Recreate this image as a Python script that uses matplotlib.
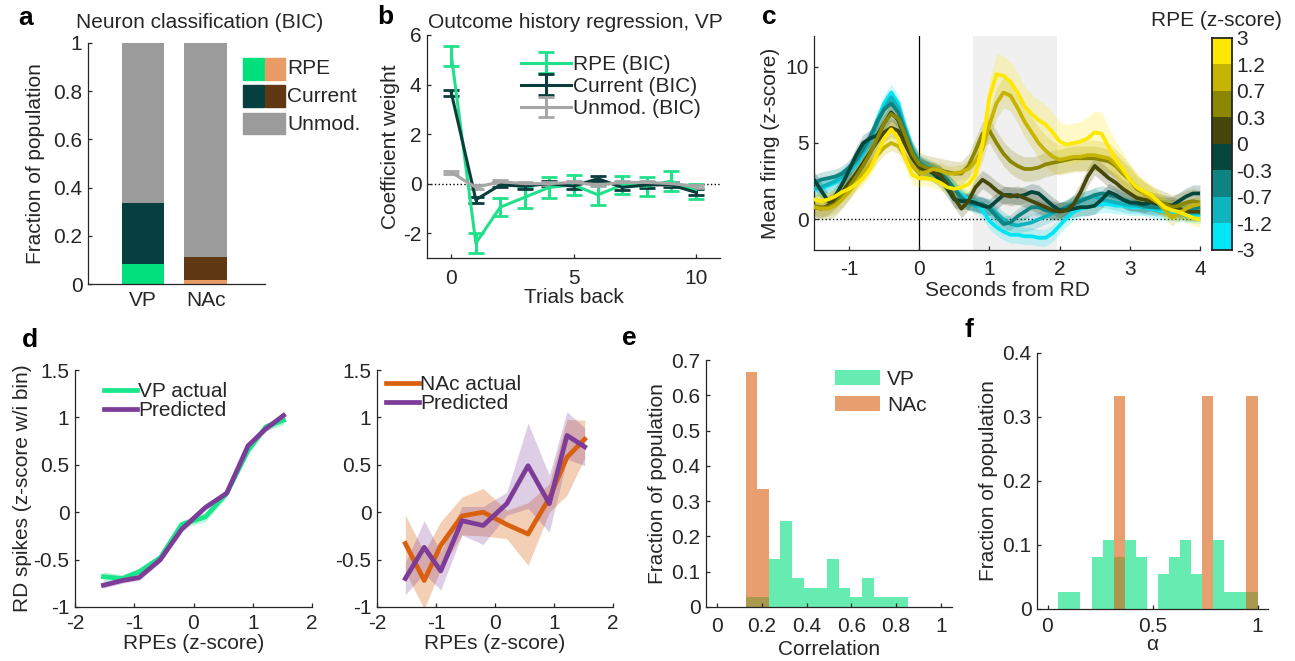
import numpy as np
import matplotlib.pyplot as plt
from matplotlib.patches import Rectangle
from matplotlib.colors import ListedColormap
from matplotlib.ticker import FuncFormatter

plt.rcParams['font.family'] = ['Liberation Sans', 'DejaVu Sans']
plt.rcParams['font.size'] = 15
plt.rcParams['axes.unicode_minus'] = False
for key in ['text.color', 'axes.labelcolor', 'xtick.color', 'ytick.color', 'axes.edgecolor']:
    plt.rcParams[key] = '#262626'
plt.rcParams['xtick.direction'] = 'in'
plt.rcParams['ytick.direction'] = 'in'
plt.rcParams['axes.linewidth'] = 0.9

# ---- panel a: neuron classification
regions = ['VP', 'NAc']
frac_rpe = [0.085, 0.015]
frac_current = [0.25, 0.095]
frac_unmod = [0.665, 0.89]

# ---- panel b: outcome history regression (VP)
trials_back = [0, 1, 2, 3, 4, 5, 6, 7, 8, 9, 10]
coef_rpe = [5.15, -2.4, -0.95, -0.55, -0.15, -0.05, -0.45, -0.05, -0.1, 0.1, -0.3]
err_rpe = [0.4, 0.4, 0.37, 0.42, 0.42, 0.4, 0.4, 0.35, 0.38, 0.4, 0.3]
coef_current = [3.65, -0.65, -0.05, -0.1, 0.0, -0.1, 0.2, -0.15, -0.05, -0.05, -0.35]
err_current = [0.12, 0.13, 0.1, 0.1, 0.1, 0.12, 0.1, 0.12, 0.12, 0.1, 0.12]
coef_unmod = [0.45, -0.15, 0.08, 0.0, 0.0, 0.05, -0.05, 0.05, 0.05, 0.0, -0.1]
err_unmod = [0.05, 0.08, 0.06, 0.06, 0.05, 0.05, 0.05, 0.05, 0.05, 0.05, 0.06]

# ---- panel c: mean firing by RPE bin (time from RD, 0.1 s steps)
time_rd = np.round(np.arange(-1.5, 4.01, 0.1), 2)
rpe_bin_labels = ['-3', '-1.2', '-0.7', '-0.3', '0', '0.3', '0.7', '1.2', '3']
rpe_colors = ['#00E6F5', '#0FB4BE', '#0F8282', '#05463C', '#46480A', '#8B8700', '#C6B400', '#FFE800']
firing_cyan = [2.0, 2.0, 2.2, 2.4, 2.7, 3.1, 3.6, 4.3, 5.2, 6.5, 7.6, 8.3, 7.6, 6.0, 4.6, 3.6,
               3.3, 3.0, 2.8, 2.4, 2.0, 1.6, 1.3, 1.1, 0.6, -0.1,
               -0.5, -0.8, -1.0, -1.0, -1.1, -1.1, -1.2, -1.2, -0.9, -0.4,
               0.1, 0.5, 0.7, 0.8, 0.9, 1.0, 1.0, 0.9, 0.9, 0.8,
               0.8, 0.8, 0.7, 0.6, 0.5, 0.5, 0.4, 0.4, 0.3, 0.3]
firing_cyanteal = [2.0, 2.1, 2.3, 2.5, 2.8, 3.2, 3.7, 4.4, 5.2, 6.3, 7.3, 8.0, 7.3, 5.9, 4.6, 3.7,
                   3.5, 3.3, 3.0, 2.5, 2.0, 1.5, 1.1, 0.9, 0.9, 0.8,
                   0.4, 0.0, -0.3, -0.4, -0.3, -0.2, 0.0, 0.2, 0.4, 0.6,
                   0.8, 1.1, 1.3, 1.4, 1.5, 1.3, 1.2, 1.1, 1.0, 0.9,
                   0.9, 0.8, 0.8, 0.7, 0.7, 0.6, 0.5, 0.5, 0.4, 0.4]
firing_teal = [2.4, 2.6, 2.7, 2.8, 3.0, 3.4, 3.9, 4.6, 5.4, 6.4, 7.2, 7.6, 7.0, 5.7, 4.5, 3.7,
               3.4, 3.2, 3.0, 2.6, 2.0, 1.4, 1.1, 1.0, 1.0, 0.7,
               0.2, -0.3, -0.2, 0.2, 0.5, 0.8, 0.8, 0.6, 0.5, 0.6,
               0.8, 1.0, 1.2, 1.4, 1.6, 1.7, 1.6, 1.5, 1.3, 1.1,
               1.0, 0.9, 0.8, 0.8, 0.8, 0.8, 0.7, 0.6, 0.7, 0.8]
firing_darkteal = [2.6, 1.9, 1.2, 1.5, 2.3, 3.2, 4.2, 5.0, 5.3, 5.5, 6.3, 7.0, 6.5, 5.3, 4.2, 3.5,
                   3.3, 3.0, 2.6, 2.0, 1.3, 1.2, 1.2, 1.1, 0.9, 0.8,
                   1.2, 1.6, 1.6, 1.5, 1.6, 1.8, 1.7, 1.3, 0.9, 0.6,
                   0.6, 0.7, 0.8, 0.8, 0.9, 1.3, 1.8, 1.6, 1.3, 1.1,
                   1.1, 1.0, 1.1, 1.0, 0.9, 0.9, 1.2, 1.5, 1.7, 1.7]
firing_darkolive = [0.8, 0.7, 0.9, 1.3, 1.8, 2.4, 3.0, 3.7, 4.4, 5.1, 5.7, 6.0, 5.8, 4.9, 4.0, 3.4,
                    3.2, 3.1, 2.9, 2.3, 1.4, 0.7, 1.2, 2.1, 2.6, 2.3,
                    1.9, 1.6, 1.5, 1.6, 1.4, 1.2, 1.0, 0.8, 0.6, 0.5,
                    0.6, 1.0, 1.8, 2.8, 3.5, 3.1, 2.7, 2.4, 2.0, 1.7,
                    1.4, 1.3, 1.2, 1.1, 1.0, 0.9, 0.7, 0.5, 0.5, 0.5]
firing_olive = [0.9, 0.8, 0.8, 1.0, 1.5, 2.1, 2.8, 3.5, 4.3, 5.3, 6.3, 6.9, 6.6, 5.5, 4.3, 3.6,
                3.4, 3.3, 3.2, 3.1, 3.0, 3.0, 3.5, 4.5, 5.6, 5.8,
                5.0, 4.3, 3.8, 3.5, 3.3, 3.3, 3.4, 3.6, 3.7, 3.8,
                3.9, 4.0, 4.0, 4.0, 4.0, 3.9, 3.8, 3.5, 3.0, 2.6,
                2.0, 1.7, 1.4, 1.2, 1.0, 0.8, 0.9, 1.1, 1.2, 1.1]
firing_oliveyellow = [0.8, 0.7, 0.7, 0.9, 1.3, 1.8, 2.4, 3.0, 3.6, 4.2, 4.7, 5.0, 4.8, 4.1, 3.5, 3.0,
                      3.1, 3.3, 3.2, 3.0, 3.0, 3.1, 3.3, 3.8, 4.6, 6.2,
                      7.6, 8.3, 8.1, 7.3, 6.4, 5.7, 5.0, 4.5, 4.1, 3.9,
                      4.0, 4.1, 4.1, 4.2, 4.2, 4.1, 4.0, 3.6, 3.1, 2.6,
                      2.1, 1.7, 1.4, 1.1, 0.6, 0.1, 0.4, 0.7, 0.9, 1.0]
firing_yellow = [1.3, 1.2, 1.3, 1.5, 1.8, 2.0, 2.3, 2.7, 3.3, 4.3, 5.3, 5.9, 5.3, 4.0, 2.9, 2.7,
                 2.7, 2.6, 2.4, 2.1, 2.0, 2.1, 2.3, 2.9, 4.9, 8.0,
                 9.5, 9.4, 9.0, 8.3, 7.4, 6.9, 6.5, 6.2, 5.7, 5.1,
                 4.9, 5.0, 5.1, 5.3, 5.7, 5.6, 4.7, 3.9, 3.3, 2.6,
                 2.1, 1.85, 1.6, 1.2, 0.8, 0.6, 0.5, 0.3, 0.1, 0.0]
sem_yellow = [0.5] * 10 + [0.6] * 6 + [0.5, 0.5, 0.5, 0.5, 0.5, 0.5, 0.6, 0.8, 1.0, 1.2] \
    + [1.3] * 10 + [1.3, 1.3, 1.3, 1.4, 1.4, 1.4, 1.3, 1.2, 1.1, 1.0] \
    + [0.9, 0.8, 0.7, 0.7, 0.6, 0.6, 0.5, 0.5, 0.5, 0.5]
sem_oliveyellow = [0.5] * 16 + [0.5, 0.5, 0.5, 0.5, 0.5, 0.5, 0.6, 0.7, 0.8, 0.9] \
    + [1.0] * 10 + [1.0] * 10 + [0.9, 0.8, 0.7, 0.6, 0.6, 0.5, 0.5, 0.5, 0.5, 0.5]
sem_cyan, sem_cyanteal, sem_teal, sem_darkteal = 0.55, 0.5, 0.5, 0.55
sem_darkolive, sem_olive = 0.6, 0.8

# ---- panel d: RD spikes vs RPE bins
rpe_bins = [-1.52, -1.2, -0.92, -0.56, -0.2, 0.2, 0.56, 0.92, 1.22, 1.52]
vp_actual = [-0.68, -0.70, -0.63, -0.48, -0.13, -0.05, 0.2, 0.65, 0.9, 0.97]
vp_actual_sem = [0.05, 0.04, 0.04, 0.04, 0.04, 0.05, 0.04, 0.04, 0.04, 0.05]
vp_pred = [-0.77, -0.72, -0.69, -0.50, -0.18, 0.05, 0.2, 0.70, 0.88, 1.02]
vp_pred_sem = [0.03, 0.03, 0.03, 0.03, 0.03, 0.03, 0.03, 0.03, 0.03, 0.04]
nac_actual = [-0.33, -0.72, -0.35, -0.04, 0.0, -0.13, -0.23, 0.15, 0.58, 0.77]
nac_actual_sem = [0.3, 0.3, 0.25, 0.2, 0.25, 0.15, 0.33, 0.15, 0.4, 0.2]
nac_pred = [-0.70, -0.37, -0.62, -0.09, -0.14, 0.09, 0.49, 0.09, 0.81, 0.69]
nac_pred_sem = [0.17, 0.28, 0.2, 0.15, 0.2, 0.12, 0.45, 0.3, 0.25, 0.2]

# ---- panel e: correlation histograms
corr_edges = [0.127, 0.179, 0.231, 0.283, 0.335, 0.387, 0.439, 0.491, 0.543, 0.595,
              0.647, 0.699, 0.751, 0.803, 0.855]
corr_vp = [0.027, 0.027, 0.135, 0.243, 0.081, 0.054, 0.054, 0.135, 0.054, 0.027, 0.081, 0.027, 0.027, 0.027]
corr_nac = [0.667, 0.333, 0, 0, 0, 0, 0, 0, 0, 0, 0, 0, 0, 0]

# ---- panel f: alpha histograms
alpha_edges = [0.052, 0.105, 0.157, 0.210, 0.263, 0.315, 0.368, 0.421, 0.473, 0.526,
               0.579, 0.631, 0.684, 0.737, 0.789, 0.842, 0.895, 0.947, 1.0]
alpha_vp = [0.027, 0.027, 0, 0.081, 0.108, 0.081, 0.108, 0.081, 0, 0.054, 0.081, 0.108, 0.054, 0,
            0.108, 0.027, 0.027, 0.027]
alpha_nac = [0, 0, 0, 0, 0, 0.333, 0, 0, 0, 0, 0, 0, 0, 0.333, 0, 0, 0, 0.333]

GREEN = '#00E07C'
DARK = '#063F3F'
GRAY = '#9B9B9B'
ORANGE_L = '#E89B64'
BROWN = '#603813'
NAC_ORANGE = '#D9600F'
PURPLE = '#7D3C98'
FS = 15

W, H = 1295, 661
fig = plt.figure(figsize=(W / 100, H / 100), dpi=100)


def px_axes(x0, y0, x1, y1):
    return fig.add_axes([x0 / W, 1 - y1 / H, (x1 - x0) / W, (y1 - y0) / H])


def px(x, y):
    return x / W, 1 - y / H


def style(ax, xpad=5):
    ax.spines['top'].set_visible(False)
    ax.spines['right'].set_visible(False)
    ax.tick_params(length=3, width=0.9)
    ax.tick_params(axis='x', pad=xpad)
    ax.tick_params(axis='y', pad=4)
    fmt = FuncFormatter(lambda v, p: '%g' % round(v, 3))
    ax.xaxis.set_major_formatter(fmt)
    ax.yaxis.set_major_formatter(fmt)


def letter(x, y, s):
    fig.text(*px(x, y), s, fontsize=19, fontweight='bold', color='black', va='baseline')


# ================= a
ax = px_axes(88, 43, 265, 284)
style(ax)
xpos = [1, 2]
ax.bar(xpos, frac_rpe, 0.68, color=[GREEN, ORANGE_L])
ax.bar(xpos, frac_current, 0.68, bottom=frac_rpe, color=[DARK, BROWN])
ax.bar(xpos, frac_unmod, 0.68, bottom=np.add(frac_rpe, frac_current), color=GRAY)
ax.set_xlim(0.127, 2.94)
ax.set_ylim(0, 1)
ax.set_xticks(xpos, regions)
ax.tick_params(axis='x', length=0, pad=5)
ax.set_yticks(np.arange(0, 1.01, 0.2))
ax.set_ylabel('Fraction of population', labelpad=6)
fig.text(*px(76, 22), 'Neuron classification (BIC)', fontsize=FS, va='center')
for (x0, y0, x1, y1, c) in [(243, 58, 264, 80, GREEN), (265, 58, 285, 80, ORANGE_L),
                            (243, 85, 264, 107, DARK), (265, 85, 285, 107, BROWN),
                            (243, 113, 285, 134, GRAY)]:
    fig.add_artist(Rectangle(px(x0, y1), (x1 - x0) / W, (y1 - y0) / H, color=c,
                             transform=fig.transFigure))
for s, y in [('RPE', 69), ('Current', 96), ('Unmod.', 124)]:
    fig.text(*px(287, y), s, fontsize=FS, va='center')
letter(18, 25, 'a')

# ================= b
ax = px_axes(427, 35, 720, 258)
style(ax, xpad=8)
ax.axhline(0, color='black', lw=1, ls=':', zorder=0)
for m, e, c, lab in [(coef_rpe, err_rpe, '#22E08A', 'RPE (BIC)'),
                     (coef_current, err_current, '#0B3D3D', 'Current (BIC)'),
                     (coef_unmod, err_unmod, '#A6A6A6', 'Unmod. (BIC)')]:
    ax.errorbar(trials_back, m, yerr=e, color=c, lw=2.2, capsize=5.5, capthick=2, label=lab)
ax.set_xlim(-1, 11)
ax.set_ylim(-3, 6)
ax.set_xticks([0, 5, 10])
ax.set_yticks([-2, 0, 2, 4, 6])
ax.set_xlabel('Trials back', labelpad=0)
ax.set_ylabel('Coefficient weight', labelpad=2)
ax.legend(loc='upper left', bbox_to_anchor=px(521, 55), bbox_transform=fig.transFigure,
          frameon=False, fontsize=FS, handlelength=2.4, handletextpad=0.1,
          labelspacing=0.15, borderpad=0, borderaxespad=0)
fig.text(*px(428, 22), 'Outcome history regression, VP', fontsize=FS, va='center')
letter(377, 24, 'b')

# ================= c
ax = px_axes(814, 36, 1200, 250)
style(ax, xpad=7)
ax.axvspan(0.77, 1.96, color='#F0F0F0', lw=0, zorder=0)
ax.axhline(0, color='black', lw=1, ls=':', zorder=1)
ax.axvline(0, color='black', lw=0.9, zorder=1)
traces = [(firing_cyan, sem_cyan), (firing_cyanteal, sem_cyanteal), (firing_teal, sem_teal),
          (firing_darkteal, sem_darkteal), (firing_darkolive, sem_darkolive),
          (firing_olive, sem_olive), (firing_oliveyellow, sem_oliveyellow),
          (firing_yellow, sem_yellow)]
for (vals, sem), c in zip(traces, rpe_colors):
    v = np.array(vals)
    s = np.array(sem)
    ax.fill_between(time_rd, v - s, v + s, color=c, alpha=0.22, lw=0, zorder=2)
    ax.plot(time_rd, v, color=c, lw=2.7, zorder=3)
ax.set_xlim(-1.5, 4)
ax.set_ylim(-2, 12)
ax.set_xticks([-1, 0, 1, 2, 3, 4])
ax.set_yticks([0, 5, 10])
ax.set_xlabel('Seconds from RD', labelpad=2)
ax.set_ylabel('Mean firing (z-score)', labelpad=4)
letter(762, 24, 'c')

cax = px_axes(1212, 38, 1232, 250)
cax.pcolormesh([0, 1], np.arange(9), np.arange(8).reshape(-1, 1),
               cmap=ListedColormap(rpe_colors), vmin=-0.5, vmax=7.5)
cax.set_xticks([])
cax.yaxis.tick_right()
cax.set_yticks(np.arange(9), rpe_bin_labels)
cax.tick_params(axis='y', length=0, pad=3)
for sp in cax.spines.values():
    sp.set_linewidth(1.3)
fig.text(*px(1282, 20), 'RPE (z-score)', fontsize=FS, va='center', ha='right')

# ================= d
for (x0, x1), actual, asem, pred, psem, col, lab, leg_xy in [
        ((75, 312), vp_actual, vp_actual_sem, vp_pred, vp_pred_sem, '#19E68A', 'VP actual', (104, 382)),
        ((377, 613), nac_actual, nac_actual_sem, nac_pred, nac_pred_sem, NAC_ORANGE, 'NAc actual', (386, 375))]:
    ax = px_axes(x0, 370, x1, 607)
    style(ax)
    a, sa = np.array(actual), np.array(asem)
    p, sp_ = np.array(pred), np.array(psem)
    ax.fill_between(rpe_bins, a - sa, a + sa, color=col, alpha=0.3, lw=0)
    ax.fill_between(rpe_bins, p - sp_, p + sp_, color=PURPLE, alpha=0.25, lw=0)
    ax.plot(rpe_bins, actual, color=col, lw=3.4, label=lab)
    ax.plot(rpe_bins, pred, color=PURPLE, lw=3.4, label='Predicted')
    ax.set_xlim(-2, 2)
    ax.set_ylim(-1, 1.5)
    ax.set_xticks([-2, -1, 0, 1, 2])
    ax.set_yticks([-1, -0.5, 0, 0.5, 1, 1.5])
    ax.set_xlabel('RPEs (z-score)', labelpad=1)
    ax.legend(loc='upper left', bbox_to_anchor=px(*leg_xy), bbox_transform=fig.transFigure,
              frameon=False, fontsize=FS, handlelength=1.6, handletextpad=0.05,
              labelspacing=0.0, borderpad=0, borderaxespad=0)
    if x0 == 75:
        ax.set_ylabel('RD spikes (z-score w/i bin)', labelpad=1)
letter(22, 347, 'd')

# ================= e
ax = px_axes(706, 360, 952, 607)
style(ax, xpad=7)
ax.bar(corr_edges[:-1], corr_vp, width=np.diff(corr_edges), align='edge', color=GREEN,
       alpha=0.6, lw=0, label='VP')
ax.bar(corr_edges[:-1], corr_nac, width=np.diff(corr_edges), align='edge', color=NAC_ORANGE,
       alpha=0.6, lw=0, label='NAc')
ax.set_xlim(-0.05, 1.05)
ax.set_ylim(0, 0.7)
ax.set_xticks(np.arange(0, 1.01, 0.2))
ax.set_yticks(np.arange(0, 0.71, 0.1))
ax.set_xlabel('Correlation', labelpad=3)
ax.set_ylabel('Fraction of population', labelpad=3)
ax.legend(loc='upper left', bbox_to_anchor=px(835, 370), bbox_transform=fig.transFigure,
          frameon=False, fontsize=FS, handlelength=2.15, handleheight=0.75, handletextpad=0.35,
          labelspacing=0.32, borderpad=0, borderaxespad=0)
letter(622, 345, 'e')

# ================= f
ax = px_axes(1037, 353, 1268, 609)
style(ax, xpad=6)
ax.bar(alpha_edges[:-1], alpha_vp, width=np.diff(alpha_edges), align='edge', color=GREEN,
       alpha=0.6, lw=0)
ax.bar(alpha_edges[:-1], alpha_nac, width=np.diff(alpha_edges), align='edge', color=NAC_ORANGE,
       alpha=0.6, lw=0)
ax.set_xlim(-0.05, 1.05)
ax.set_ylim(0, 0.4)
ax.set_xticks([0, 0.5, 1])
ax.set_yticks(np.arange(0, 0.41, 0.1))
ax.set_xlabel('α', labelpad=-1)
ax.set_ylabel('Fraction of population', labelpad=3)
letter(965, 337, 'f')

fig.savefig('out.png', dpi=100)
